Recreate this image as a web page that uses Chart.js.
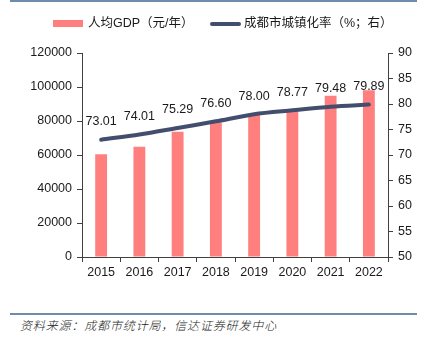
<!DOCTYPE html>
<html><head><meta charset="utf-8">
<script src="https://cdn.jsdelivr.net/npm/chart.js@4/dist/chart.umd.min.js"></script>
<style>
html,body{margin:0;padding:0;background:#fff;width:428px;height:339px;overflow:hidden;position:relative;font-family:'Liberation Sans',Arial,'Noto Sans CJK SC',sans-serif;color:#1a1a1a}
#topline{position:absolute;left:10px;top:0px;width:407px;height:2px;background:#6E8CAB}
#botline{position:absolute;left:10px;top:313px;width:407px;height:2px;background:#6E8CAB}
#src{position:absolute;left:20px;top:316px;font-size:12px;letter-spacing:0.85px;font-style:italic;font-family:'Noto Sans CJK SC',sans-serif;font-weight:300;color:#1a1a1a;white-space:nowrap}
#wrap{position:absolute;left:0;top:0;width:428px;height:290px}
.lg{position:absolute;font-size:12.5px;white-space:nowrap;line-height:14px}
.sw{position:absolute}
</style></head>
<body>
<div id="topline"></div>
<div id="wrap"><canvas id="c" width="428" height="290"></canvas></div>
<div class="sw" style="left:53px;top:20px;width:30px;height:7px;background:#FF7F7F"></div>
<div class="lg" style="left:88px;top:16px">人均GDP（元/年）</div>
<div class="sw" style="left:210px;top:22px;width:31px;height:4px;border-radius:2px;background:#434E6E"></div>
<div class="lg" style="left:244px;top:16px">成都市城镇化率（%；右）</div>
<div id="botline"></div>
<div id="src">资料来源：成都市统计局，信达证券研发中心</div>
<script>
const categories = ['2015','2016','2017','2018','2019','2020','2021','2022'];
const gdpPerCapita = [60400, 64900, 73700, 79000, 83900, 86500, 94900, 98100];
const urbanRate = [73.01, 74.01, 75.29, 76.60, 78.00, 78.77, 79.48, 79.89];
const leftTicks = [0, 20000, 40000, 60000, 80000, 100000, 120000];
const rightTicks = [50, 55, 60, 65, 70, 75, 80, 85, 90];

Chart.defaults.font.family = "'Liberation Sans', Arial, 'Noto Sans CJK SC', sans-serif";
Chart.defaults.font.size = 12.5;
Chart.defaults.color = '#1a1a1a';

const labelPlugin = {
  id: 'lineLabels',
  afterDatasetsDraw(chart) {
    const meta = chart.getDatasetMeta(1);
    const ctx = chart.ctx;
    ctx.save();
    ctx.font = "12.5px 'Liberation Sans', Arial, sans-serif";
    ctx.fillStyle = '#1a1a1a';
    ctx.textAlign = 'center';
    ctx.textBaseline = 'middle';
    meta.data.forEach((pt, i) => {
      ctx.fillText(urbanRate[i].toFixed(2), pt.x, pt.y - 18);
    });
    ctx.restore();
  }
};

const axisColor = '#404040';
new Chart(document.getElementById('c'), {
  data: {
    labels: categories,
    datasets: [
      { type: 'bar', label: '人均GDP（元/年）', data: gdpPerCapita, backgroundColor: '#FF7F7F',
        yAxisID: 'y', barPercentage: 0.31, categoryPercentage: 1, order: 2 },
      { type: 'line', label: '成都市城镇化率（%；右）', data: urbanRate, borderColor: '#434E6E',
        backgroundColor: '#434E6E', borderWidth: 4, pointRadius: 0, tension: 0.3,
        borderCapStyle: 'round', yAxisID: 'y1', order: 1 }
    ]
  },
  options: {
    responsive: false,
    animation: false,
    layout: { padding: { top: 53, left: 0, right: 0, bottom: 0 } },
    plugins: { legend: { display: false }, tooltip: { enabled: false } },
    scales: {
      x: {
        offset: true,
        grid: { display: true, offset: true, drawOnChartArea: false, drawTicks: true, tickLength: 5, color: axisColor },
        border: { display: true, color: axisColor, width: 1 },
        ticks: { padding: 3, maxRotation: 0, autoSkip: false },
        afterFit(s) { s.height = 33; }
      },
      y: {
        position: 'left', min: 0, max: 120000,
        afterBuildTicks(s) { s.ticks = leftTicks.map(v => ({ value: v })); },
        grid: { display: true, drawOnChartArea: false, drawTicks: true, tickLength: 5, color: axisColor },
        border: { display: true, color: axisColor, width: 1 },
        ticks: { padding: 5, callback: v => String(v) },
        afterFit(s) { s.width = 82; }
      },
      y1: {
        position: 'right', min: 50, max: 90,
        afterBuildTicks(s) { s.ticks = rightTicks.map(v => ({ value: v })); },
        grid: { display: true, drawOnChartArea: false, drawTicks: true, tickLength: 5, color: axisColor },
        border: { display: true, color: axisColor, width: 1 },
        ticks: { padding: 5, callback: v => String(v) },
        afterFit(s) { s.width = 40; }
      }
    }
  },
  plugins: [labelPlugin]
});
</script>
</body></html>
